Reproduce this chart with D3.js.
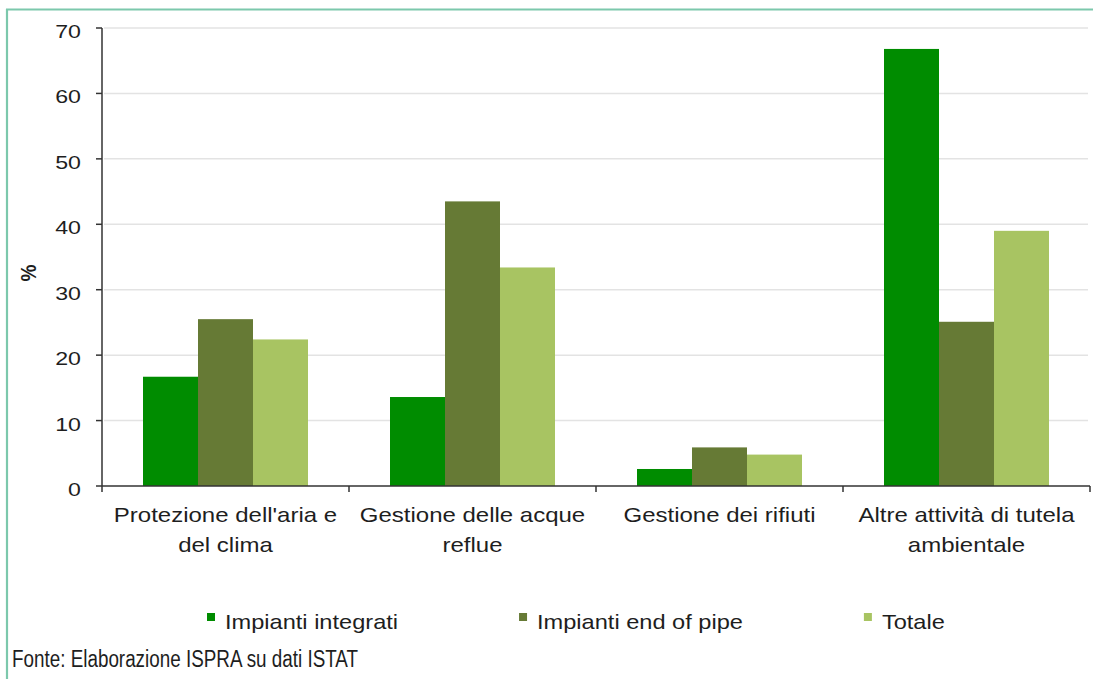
<!DOCTYPE html>
<html>
<head>
<meta charset="utf-8">
<script src="https://cdn.jsdelivr.net/npm/d3@7"></script>
<style>
  html, body { margin: 0; padding: 0; background: #ffffff; }
  svg { display: block; }
  text { font-family: Arial, "Liberation Sans", sans-serif; fill: #1e1e1e; }
</style>
</head>
<body>
<svg id="chart" width="1093" height="679"></svg>
<script>
// ---- data ----
const categories = [
  "Protezione dell'aria e del clima",
  "Gestione delle acque reflue",
  "Gestione dei rifiuti",
  "Altre attività di tutela ambientale"
];
const categoryLines = [
  ["Protezione dell'aria e", "del clima"],
  ["Gestione delle acque", "reflue"],
  ["Gestione dei rifiuti"],
  ["Altre attività di tutela", "ambientale"]
];
const seriesNames = ["Impianti integrati", "Impianti end of pipe", "Totale"];
const impiantiIntegrati = [16.7, 13.6, 2.6, 66.8];
const impiantiEndOfPipe = [25.5, 43.5, 5.9, 25.1];
const totale = [22.4, 33.4, 4.8, 39.0];
const yTicks = [0, 10, 20, 30, 40, 50, 60, 70];
const yLabel = "%";
const sourceText = "Fonte: Elaborazione ISPRA su dati ISTAT";

// ---- layout / style ----
const colors = ["#008c00", "#667a35", "#a8c462"];
const seriesValues = [impiantiIntegrati, impiantiEndOfPipe, totale];
const svg = d3.select("#chart");
const stretch = 1.2;

const x = d3.scaleBand().domain(categories).range([102, 1090])
  .paddingInner(0.332).paddingOuter(0.166);
const xs = d3.scaleBand().domain(seriesNames).range([0, x.bandwidth()]);
const y = d3.scaleLinear().domain([0, 70]).range([486, 28]);

// frame
svg.append("line").attr("x1", 6).attr("x2", 1093).attr("y1", 9.5).attr("y2", 9.5)
  .attr("stroke", "#7cc8ac").attr("stroke-width", 2.2);
svg.append("line").attr("x1", 7).attr("x2", 7).attr("y1", 9).attr("y2", 679)
  .attr("stroke", "#7cc8ac").attr("stroke-width", 2.2);

// gridlines
svg.append("g").selectAll("line").data(yTicks.filter(d => d > 0)).join("line")
  .attr("x1", 104).attr("x2", 1088)
  .attr("y1", d => y(d)).attr("y2", d => y(d))
  .attr("stroke", "#e3e3e3").attr("stroke-width", 1.5);

// bars
const rows = [];
categories.forEach((c, i) => seriesNames.forEach((s, j) => rows.push({c, s, j, v: seriesValues[j][i]})));
svg.append("g").selectAll("rect").data(rows).join("rect")
  .attr("x", d => x(d.c) + xs(d.s))
  .attr("width", xs.bandwidth())
  .attr("y", d => y(d.v))
  .attr("height", d => y(0) - y(d.v))
  .attr("fill", d => colors[d.j]);

// y axis
const yAxis = svg.append("g");
yAxis.append("line").attr("x1", 102).attr("x2", 102).attr("y1", y(70)).attr("y2", y(0))
  .attr("stroke", "#333").attr("stroke-width", 1.5);
yAxis.selectAll("line.t").data(yTicks).join("line").attr("class", "t")
  .attr("x1", 96).attr("x2", 102).attr("y1", d => y(d)).attr("y2", d => y(d))
  .attr("stroke", "#333").attr("stroke-width", 1.5);
yAxis.selectAll("text").data(yTicks).join("text")
  .attr("transform", d => `translate(81,${y(d) + 10}) scale(1.22,1)`)
  .attr("text-anchor", "end").style("font-size", "19px").text(d => d);

// y label
svg.append("text").attr("transform", "translate(36,273) rotate(-90) scale(1,1.2)")
  .attr("text-anchor", "middle").style("font-size", "19px").style("font-weight", "bold")
  .text(yLabel);

// x axis
const step = x.step();
const boundaries = categories.map(c => x(c) - (step - x.bandwidth()) / 2);
boundaries.push(boundaries[boundaries.length - 1] + step);
svg.append("line").attr("x1", 102).attr("x2", boundaries[boundaries.length - 1])
  .attr("y1", y(0)).attr("y2", y(0)).attr("stroke", "#333").attr("stroke-width", 1.5);
svg.append("g").selectAll("line").data(boundaries).join("line")
  .attr("x1", d => d).attr("x2", d => d).attr("y1", y(0)).attr("y2", y(0) + 6)
  .attr("stroke", "#333").attr("stroke-width", 1.5);

// category labels
categories.forEach((c, i) => {
  const cx = x(c) + x.bandwidth() / 2;
  categoryLines[i].forEach((line, k) => {
    svg.append("text")
      .attr("transform", `translate(${cx},${522 + k * 30}) scale(${stretch},1)`)
      .attr("text-anchor", "middle").style("font-size", "20px").text(line);
  });
});

// legend
const legend = svg.append("g");
let lx = 207;
seriesNames.forEach((s, j) => {
  legend.append("rect").attr("x", lx).attr("y", 613).attr("width", 8).attr("height", 8)
    .attr("fill", colors[j]);
  const t = legend.append("text")
    .attr("transform", `translate(${lx + 18},629) scale(${stretch - 0.02},1)`)
    .style("font-size", "20px").text(s);
  const w = t.node().getComputedTextLength() * (stretch - 0.02);
  lx += 18 + w + 121;
});

// source
svg.append("text").attr("transform", "translate(12,667) scale(0.82,1)")
  .style("font-size", "23px").text(sourceText);
</script>
</body>
</html>
